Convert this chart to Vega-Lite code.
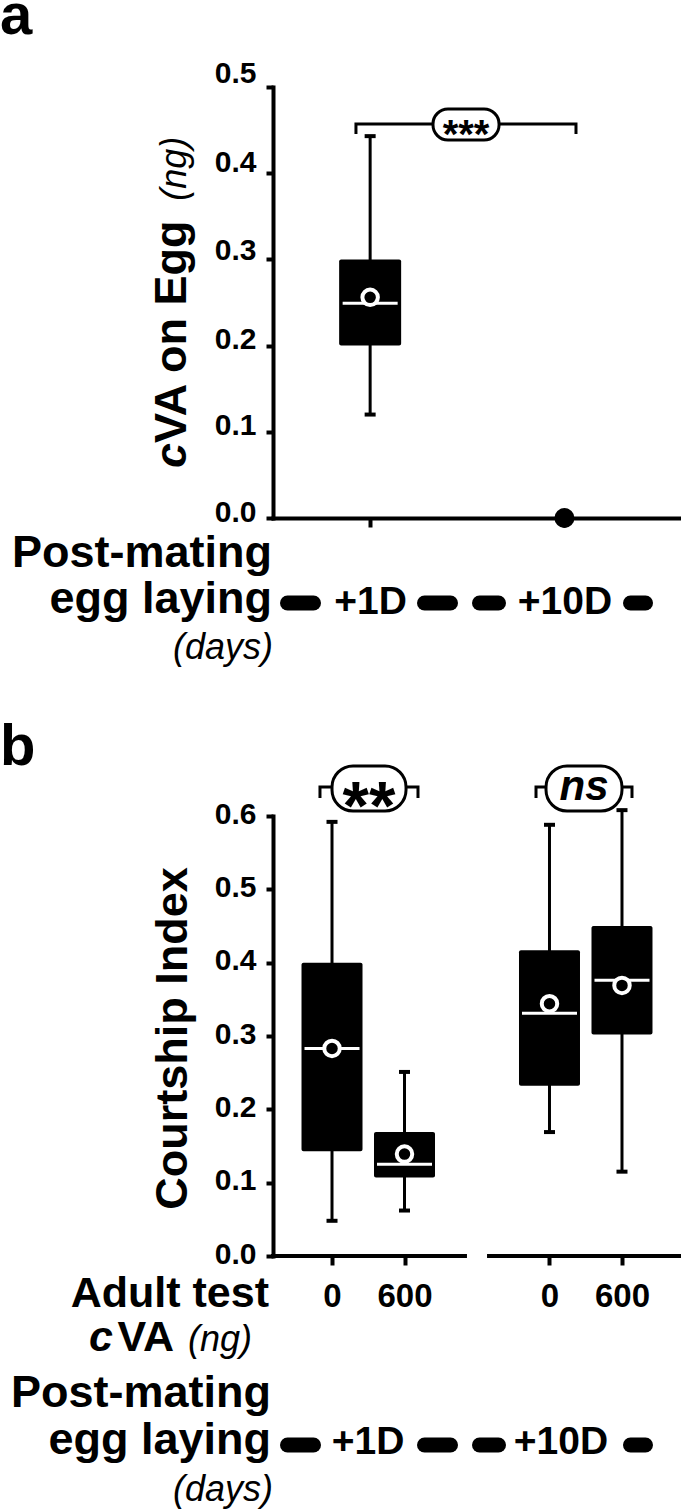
{
  "$schema": "https://vega.github.io/schema/vega-lite/v6.json",
  "padding": {"left": 0, "top": -13, "right": 0, "bottom": 0},
  "background": "white",
  "config": {"view": {"stroke": null}, "font": "Liberation Sans", "text": {"font": "Liberation Sans", "color": "black"}, "tick": {"opacity": 1}, "scale": {"continuousPadding": 0}},
  "spacing": 51,
  "datasets": {
    "boxA": [{"egg_laying": "+1D", "pos": 1, "min": 0.12, "q1": 0.2, "median": 0.249, "q3": 0.3, "max": 0.443, "mean": 0.256}],
    "pointA": [{"egg_laying": "+10D", "pos": 3, "value": 0}],
    "segA": [{"from": 0.1493, "to": 0.4169}, {"from": 1.5596, "to": 1.8273}, {"from": 2.1258, "to": 2.3214}, {"from": 3.6803, "to": 3.8347}],
    "bracketA": [{"bx": 0.854, "by": 0.4455, "i": 0}, {"bx": 0.854, "by": 0.457, "i": 1}, {"bx": 3.119, "by": 0.457, "i": 2}, {"bx": 3.119, "by": 0.4455, "i": 3}],
    "boxB": [
      {"egg_laying": "+1D", "cva": "0", "pos": 1, "min": 0.048, "q1": 0.143, "median": 0.283, "q3": 0.4, "max": 0.592, "mean": 0.283},
      {"egg_laying": "+1D", "cva": "600", "pos": 2, "min": 0.062, "q1": 0.107, "median": 0.125, "q3": 0.169, "max": 0.251, "mean": 0.139},
      {"egg_laying": "+10D", "cva": "0", "pos": 4, "min": 0.169, "q1": 0.232, "median": 0.331, "q3": 0.417, "max": 0.588, "mean": 0.344},
      {"egg_laying": "+10D", "cva": "600", "pos": 5, "min": 0.115, "q1": 0.302, "median": 0.376, "q3": 0.45, "max": 0.608, "mean": 0.369}
    ],
    "segB": [{"from": 0.3862, "to": 0.7448}, {"from": 2.2759, "to": 2.6345}, {"from": 3.0345, "to": 3.2966}, {"from": 5.1172, "to": 5.3241}],
    "axisSegB": [{"from": 0.186, "to": 2.834}, {"from": 3.166, "to": 5.814}],
    "bracketB": [
      {"g": "1D", "bx": 0.834, "by": 0.6246, "i": 0}, {"g": "1D", "bx": 0.834, "by": 0.6396, "i": 1}, {"g": "1D", "bx": 2.186, "by": 0.6396, "i": 2}, {"g": "1D", "bx": 2.186, "by": 0.6246, "i": 3},
      {"g": "10D", "bx": 3.814, "by": 0.6246, "i": 0}, {"g": "10D", "bx": 3.814, "by": 0.6396, "i": 1}, {"g": "10D", "bx": 5.138, "by": 0.6396, "i": 2}, {"g": "10D", "bx": 5.138, "by": 0.6246, "i": 3}
    ]
  },
  "vconcat": [
    {
      "width": 408,
      "height": 431,
      "layer": [
        {
          "data": {"name": "boxA"},
          "mark": {"type": "rule", "strokeWidth": 3, "color": "black"},
          "encoding": {
            "x": {"field": "pos", "type": "quantitative", "scale": {"domain": [0, 4.2], "nice": false, "padding": 0},
              "axis": {"title": null, "values": [1, 3], "labelExpr": "datum.value == 1 ? '+1D' : '+10D'", "grid": false, "domainColor": "black", "domainWidth": 4, "domainCap": "square", "tickColor": "black", "tickWidth": 4, "tickSize": 9, "labelFont": "Liberation Sans", "labelFontWeight": "bold", "labelFontSize": 39, "labelColor": "black", "labelBaseline": "alphabetic", "labelPadding": 86, "labelFlush": false, "labelOverlap": false}},
            "y": {"field": "min", "type": "quantitative", "scale": {"domain": [0, 0.5], "nice": false, "padding": 0},
              "axis": {"title": null, "values": [0, 0.1, 0.2, 0.3, 0.4, 0.5], "format": ".1f", "grid": false, "domainColor": "black", "domainWidth": 4, "domainCap": "square", "tickColor": "black", "tickWidth": 4, "tickSize": 7, "labelFont": "Liberation Sans", "labelFontWeight": "bold", "labelFontSize": 30, "labelColor": "black", "labelPadding": 10, "labelBaseline": "middle", "labelOverlap": false,
                "labelOffset": {"condition": [{"test": "datum.value > 0.45", "value": -14}, {"test": "datum.value > 0.35", "value": -11}, {"test": "datum.value > 0.25", "value": -9}, {"test": "datum.value > 0.15", "value": -6}, {"test": "datum.value > 0.05", "value": -6}], "value": -6}}},
            "y2": {"field": "max"}
          }
        },
        {
          "data": {"name": "boxA"},
          "mark": {"type": "tick", "orient": "horizontal", "size": 11, "thickness": 4, "color": "black", "opacity": 1},
          "encoding": {
            "x": {"field": "pos", "type": "quantitative", "scale": {"domain": [0, 4.2], "nice": false, "padding": 0}, "axis": {"title": null}},
            "y": {"field": "min", "type": "quantitative", "scale": {"domain": [0, 0.5], "nice": false, "padding": 0}, "axis": {"title": null}}
          }
        },
        {
          "data": {"name": "boxA"},
          "mark": {"type": "tick", "orient": "horizontal", "size": 11, "thickness": 4, "color": "black", "opacity": 1},
          "encoding": {
            "x": {"field": "pos", "type": "quantitative", "scale": {"domain": [0, 4.2], "nice": false, "padding": 0}, "axis": {"title": null}},
            "y": {"field": "max", "type": "quantitative", "scale": {"domain": [0, 0.5], "nice": false, "padding": 0}, "axis": {"title": null}}
          }
        },
        {
          "data": {"name": "boxA"},
          "mark": {"type": "bar", "width": 62, "color": "black", "cornerRadius": 2},
          "encoding": {
            "x": {"field": "pos", "type": "quantitative", "scale": {"domain": [0, 4.2], "nice": false, "padding": 0}, "axis": {"title": null}},
            "y": {"field": "q1", "type": "quantitative", "scale": {"domain": [0, 0.5], "nice": false, "padding": 0}, "axis": {"title": null}},
            "y2": {"field": "q3"}
          }
        },
        {
          "data": {"name": "boxA"},
          "mark": {"type": "tick", "orient": "horizontal", "size": 55, "thickness": 3, "color": "white", "opacity": 1},
          "encoding": {
            "x": {"field": "pos", "type": "quantitative", "scale": {"domain": [0, 4.2], "nice": false, "padding": 0}, "axis": {"title": null}},
            "y": {"field": "median", "type": "quantitative", "scale": {"domain": [0, 0.5], "nice": false, "padding": 0}, "axis": {"title": null}}
          }
        },
        {
          "data": {"name": "boxA"},
          "mark": {"type": "point", "filled": true, "color": "black", "stroke": "white", "strokeWidth": 4, "size": 240, "opacity": 1},
          "encoding": {
            "x": {"field": "pos", "type": "quantitative", "scale": {"domain": [0, 4.2], "nice": false, "padding": 0}, "axis": {"title": null}},
            "y": {"field": "mean", "type": "quantitative", "scale": {"domain": [0, 0.5], "nice": false, "padding": 0}, "axis": {"title": null}}
          }
        },
        {
          "data": {"name": "pointA"},
          "mark": {"type": "point", "filled": true, "color": "black", "size": 400, "opacity": 1},
          "encoding": {
            "x": {"field": "pos", "type": "quantitative", "scale": {"domain": [0, 4.2], "nice": false, "padding": 0}, "axis": {"title": null}},
            "y": {"field": "value", "type": "quantitative", "scale": {"domain": [0, 0.5], "nice": false, "padding": 0}, "axis": {"title": null}}
          }
        },
        {
          "data": {"name": "bracketA"},
          "mark": {"type": "line", "strokeWidth": 3, "color": "black", "strokeJoin": "miter"},
          "encoding": {
            "x": {"field": "bx", "type": "quantitative", "scale": {"domain": [0, 4.2], "nice": false, "padding": 0}, "axis": {"title": null}},
            "y": {"field": "by", "type": "quantitative", "scale": {"domain": [0, 0.5], "nice": false, "padding": 0}, "axis": {"title": null}},
            "order": {"field": "i"}
          }
        },
        {
          "data": {"values": [{"label": "***"}]},
          "mark": {"type": "rect", "fill": "white", "stroke": "black", "strokeWidth": 3, "cornerRadius": 15},
          "encoding": {
            "x": {"datum": 1.647, "type": "quantitative", "scale": {"domain": [0, 4.2], "nice": false, "padding": 0}, "axis": {"title": null}},
            "x2": {"datum": 2.327},
            "y": {"datum": 0.4385, "type": "quantitative", "scale": {"domain": [0, 0.5], "nice": false, "padding": 0}, "axis": {"title": null}},
            "y2": {"datum": 0.4745}
          }
        },
        {
          "data": {"values": [{"label": "***"}]},
          "mark": {"type": "text", "fontSize": 40, "fontWeight": "bold", "align": "center", "baseline": "alphabetic", "color": "black"},
          "encoding": {
            "x": {"datum": 1.987, "type": "quantitative", "scale": {"domain": [0, 4.2], "nice": false, "padding": 0}, "axis": {"title": null}},
            "y": {"datum": 0.4287, "type": "quantitative", "scale": {"domain": [0, 0.5], "nice": false, "padding": 0}, "axis": {"title": null}},
            "text": {"field": "label"}
          }
        },
        {
          "data": {"name": "segA"},
          "mark": {"type": "rule", "strokeWidth": 15, "strokeCap": "round", "color": "black"},
          "encoding": {
            "x": {"field": "from", "type": "quantitative", "scale": {"domain": [0, 4.2], "nice": false, "padding": 0}, "axis": {"title": null}},
            "x2": {"field": "to"},
            "y": {"datum": -0.0986, "type": "quantitative", "scale": {"domain": [0, 0.5], "nice": false, "padding": 0}, "axis": {"title": null}}
          }
        },
        {
          "data": {"values": [{"label": "Post-mating"}]},
          "mark": {"type": "text", "fontSize": 45, "fontWeight": "bold", "align": "right", "baseline": "alphabetic", "color": "black"},
          "encoding": {
            "x": {"datum": -0.0103, "type": "quantitative", "scale": {"domain": [0, 4.2], "nice": false, "padding": 0}, "axis": {"title": null}},
            "y": {"datum": -0.0569, "type": "quantitative", "scale": {"domain": [0, 0.5], "nice": false, "padding": 0}, "axis": {"title": null}},
            "text": {"field": "label"}
          }
        },
        {
          "data": {"values": [{"label": "egg laying"}]},
          "mark": {"type": "text", "fontSize": 45, "fontWeight": "bold", "align": "right", "baseline": "alphabetic", "color": "black"},
          "encoding": {
            "x": {"datum": -0.0103, "type": "quantitative", "scale": {"domain": [0, 4.2], "nice": false, "padding": 0}, "axis": {"title": null}},
            "y": {"datum": -0.1102, "type": "quantitative", "scale": {"domain": [0, 0.5], "nice": false, "padding": 0}, "axis": {"title": null}},
            "text": {"field": "label"}
          }
        },
        {
          "data": {"values": [{"label": "(days)"}]},
          "mark": {"type": "text", "fontSize": 36, "fontStyle": "italic", "align": "right", "baseline": "alphabetic", "color": "black"},
          "encoding": {
            "x": {"datum": 0, "type": "quantitative", "scale": {"domain": [0, 4.2], "nice": false, "padding": 0}, "axis": {"title": null}},
            "y": {"datum": -0.1636, "type": "quantitative", "scale": {"domain": [0, 0.5], "nice": false, "padding": 0}, "axis": {"title": null}},
            "text": {"field": "label"}
          }
        },
        {
          "data": {"values": [{"label": "c"}]},
          "mark": {"type": "text", "fontSize": 45, "fontWeight": "bold", "fontStyle": "italic", "align": "left", "baseline": "alphabetic", "angle": 270, "color": "black"},
          "encoding": {
            "x": {"datum": -0.8956, "type": "quantitative", "scale": {"domain": [0, 4.2], "nice": false, "padding": 0}, "axis": {"title": null}},
            "y": {"datum": 0.058, "type": "quantitative", "scale": {"domain": [0, 0.5], "nice": false, "padding": 0}, "axis": {"title": null}},
            "text": {"field": "label"}
          }
        },
        {
          "data": {"values": [{"label": "VA on Egg"}]},
          "mark": {"type": "text", "fontSize": 45, "fontWeight": "bold", "align": "left", "baseline": "alphabetic", "angle": 270, "color": "black"},
          "encoding": {
            "x": {"datum": -0.8956, "type": "quantitative", "scale": {"domain": [0, 4.2], "nice": false, "padding": 0}, "axis": {"title": null}},
            "y": {"datum": 0.087, "type": "quantitative", "scale": {"domain": [0, 0.5], "nice": false, "padding": 0}, "axis": {"title": null}},
            "text": {"field": "label"}
          }
        },
        {
          "data": {"values": [{"label": "(ng)"}]},
          "mark": {"type": "text", "fontSize": 36, "fontStyle": "italic", "align": "left", "baseline": "alphabetic", "angle": 270, "color": "black"},
          "encoding": {
            "x": {"datum": -0.8956, "type": "quantitative", "scale": {"domain": [0, 4.2], "nice": false, "padding": 0}, "axis": {"title": null}},
            "y": {"datum": 0.368, "type": "quantitative", "scale": {"domain": [0, 0.5], "nice": false, "padding": 0}, "axis": {"title": null}},
            "text": {"field": "label"}
          }
        },
        {
          "data": {"values": [{"label": "a"}]},
          "mark": {"type": "text", "fontSize": 58, "fontWeight": "bold", "align": "left", "baseline": "alphabetic", "color": "black"},
          "encoding": {
            "x": {"datum": -2.81, "type": "quantitative", "scale": {"domain": [0, 4.2], "nice": false, "padding": 0}, "axis": {"title": null}},
            "y": {"datum": 0.5615, "type": "quantitative", "scale": {"domain": [0, 0.5], "nice": false, "padding": 0}, "axis": {"title": null}},
            "text": {"field": "label"}
          }
        }
      ]
    },
    {
      "width": 408,
      "height": 440,
      "layer": [
        {
          "data": {"name": "boxB"},
          "mark": {"type": "rule", "strokeWidth": 3, "color": "black"},
          "encoding": {
            "x": {"field": "pos", "type": "quantitative", "scale": {"domain": [0.186, 5.814], "nice": false, "padding": 0},
              "axis": {"title": null, "values": [1, 2, 4, 5], "labelExpr": "datum.value == 1 || datum.value == 4 ? '0' : '600'", "grid": false, "domain": false, "tickColor": "black", "tickWidth": 4, "tickSize": 9, "labelFont": "Liberation Sans", "labelFontWeight": "bold", "labelFontSize": 33, "labelColor": "black", "labelBaseline": "alphabetic", "labelPadding": 41, "labelFlush": false, "labelOverlap": false}},
            "y": {"field": "min", "type": "quantitative", "scale": {"domain": [0, 0.6], "nice": false, "padding": 0},
              "axis": {"title": "Courtship Index", "titleFont": "Liberation Sans", "titleFontWeight": "bold", "titleFontSize": 45, "titleColor": "black", "titleAngle": 270, "titleAlign": "center", "titleBaseline": "alphabetic", "titleX": -87, "titleY": 222, "values": [0, 0.1, 0.2, 0.3, 0.4, 0.5, 0.6], "format": ".1f", "grid": false, "domainColor": "black", "domainWidth": 4, "domainCap": "square", "tickColor": "black", "tickWidth": 4, "tickSize": 7, "labelFont": "Liberation Sans", "labelFontWeight": "bold", "labelFontSize": 30, "labelColor": "black", "labelPadding": 10, "labelBaseline": "middle", "labelOffset": -2, "labelOverlap": false}},
            "y2": {"field": "max"}
          }
        },
        {
          "data": {"name": "boxB"},
          "mark": {"type": "tick", "orient": "horizontal", "size": 11, "thickness": 4, "color": "black", "opacity": 1},
          "encoding": {
            "x": {"field": "pos", "type": "quantitative", "scale": {"domain": [0.186, 5.814], "nice": false, "padding": 0}, "axis": {"title": null}},
            "y": {"field": "min", "type": "quantitative", "scale": {"domain": [0, 0.6], "nice": false, "padding": 0}, "axis": {"title": "Courtship Index"}}
          }
        },
        {
          "data": {"name": "boxB"},
          "mark": {"type": "tick", "orient": "horizontal", "size": 11, "thickness": 4, "color": "black", "opacity": 1},
          "encoding": {
            "x": {"field": "pos", "type": "quantitative", "scale": {"domain": [0.186, 5.814], "nice": false, "padding": 0}, "axis": {"title": null}},
            "y": {"field": "max", "type": "quantitative", "scale": {"domain": [0, 0.6], "nice": false, "padding": 0}, "axis": {"title": "Courtship Index"}}
          }
        },
        {
          "data": {"name": "boxB"},
          "mark": {"type": "bar", "width": 61, "color": "black", "cornerRadius": 2},
          "encoding": {
            "x": {"field": "pos", "type": "quantitative", "scale": {"domain": [0.186, 5.814], "nice": false, "padding": 0}, "axis": {"title": null}},
            "y": {"field": "q1", "type": "quantitative", "scale": {"domain": [0, 0.6], "nice": false, "padding": 0}, "axis": {"title": "Courtship Index"}},
            "y2": {"field": "q3"}
          }
        },
        {
          "data": {"name": "boxB"},
          "mark": {"type": "tick", "orient": "horizontal", "size": 55, "thickness": 3, "color": "white", "opacity": 1},
          "encoding": {
            "x": {"field": "pos", "type": "quantitative", "scale": {"domain": [0.186, 5.814], "nice": false, "padding": 0}, "axis": {"title": null}},
            "y": {"field": "median", "type": "quantitative", "scale": {"domain": [0, 0.6], "nice": false, "padding": 0}, "axis": {"title": "Courtship Index"}}
          }
        },
        {
          "data": {"name": "boxB"},
          "mark": {"type": "point", "filled": true, "color": "black", "stroke": "white", "strokeWidth": 4, "size": 240, "opacity": 1},
          "encoding": {
            "x": {"field": "pos", "type": "quantitative", "scale": {"domain": [0.186, 5.814], "nice": false, "padding": 0}, "axis": {"title": null}},
            "y": {"field": "mean", "type": "quantitative", "scale": {"domain": [0, 0.6], "nice": false, "padding": 0}, "axis": {"title": "Courtship Index"}}
          }
        },
        {
          "data": {"name": "axisSegB"},
          "mark": {"type": "rule", "strokeWidth": 4, "strokeCap": "square", "color": "black"},
          "encoding": {
            "x": {"field": "from", "type": "quantitative", "scale": {"domain": [0.186, 5.814], "nice": false, "padding": 0}, "axis": {"title": null}},
            "x2": {"field": "to"},
            "y": {"datum": 0, "type": "quantitative", "scale": {"domain": [0, 0.6], "nice": false, "padding": 0}, "axis": {"title": "Courtship Index"}}
          }
        },
        {
          "data": {"name": "bracketB"},
          "mark": {"type": "line", "strokeWidth": 3, "color": "black", "strokeJoin": "miter"},
          "encoding": {
            "x": {"field": "bx", "type": "quantitative", "scale": {"domain": [0.186, 5.814], "nice": false, "padding": 0}, "axis": {"title": null}},
            "y": {"field": "by", "type": "quantitative", "scale": {"domain": [0, 0.6], "nice": false, "padding": 0}, "axis": {"title": "Courtship Index"}},
            "detail": {"field": "g"},
            "order": {"field": "i"}
          }
        },
        {
          "data": {"values": [{"label": "**"}]},
          "mark": {"type": "rect", "fill": "white", "stroke": "black", "strokeWidth": 3, "cornerRadius": 21},
          "encoding": {
            "x": {"datum": 1.0, "type": "quantitative", "scale": {"domain": [0.186, 5.814], "nice": false, "padding": 0}, "axis": {"title": null}},
            "x2": {"datum": 2.021},
            "y": {"datum": 0.6068, "type": "quantitative", "scale": {"domain": [0, 0.6], "nice": false, "padding": 0}, "axis": {"title": "Courtship Index"}},
            "y2": {"datum": 0.6682}
          }
        },
        {
          "data": {"values": [{"label": "ns"}]},
          "mark": {"type": "rect", "fill": "white", "stroke": "black", "strokeWidth": 3, "cornerRadius": 21},
          "encoding": {
            "x": {"datum": 3.952, "type": "quantitative", "scale": {"domain": [0.186, 5.814], "nice": false, "padding": 0}, "axis": {"title": null}},
            "x2": {"datum": 5.0},
            "y": {"datum": 0.6068, "type": "quantitative", "scale": {"domain": [0, 0.6], "nice": false, "padding": 0}, "axis": {"title": "Courtship Index"}},
            "y2": {"datum": 0.6682}
          }
        },
        {
          "data": {"values": [{"label": "**"}]},
          "mark": {"type": "text", "fontSize": 68, "fontWeight": "bold", "align": "center", "baseline": "alphabetic", "color": "black"},
          "encoding": {
            "x": {"datum": 1.51, "type": "quantitative", "scale": {"domain": [0.186, 5.814], "nice": false, "padding": 0}, "axis": {"title": null}},
            "y": {"datum": 0.5823, "type": "quantitative", "scale": {"domain": [0, 0.6], "nice": false, "padding": 0}, "axis": {"title": "Courtship Index"}},
            "text": {"field": "label"}
          }
        },
        {
          "data": {"values": [{"label": "ns"}]},
          "mark": {"type": "text", "fontSize": 42, "fontWeight": "bold", "fontStyle": "italic", "align": "center", "baseline": "alphabetic", "color": "black"},
          "encoding": {
            "x": {"datum": 4.476, "type": "quantitative", "scale": {"domain": [0.186, 5.814], "nice": false, "padding": 0}, "axis": {"title": null}},
            "y": {"datum": 0.6218, "type": "quantitative", "scale": {"domain": [0, 0.6], "nice": false, "padding": 0}, "axis": {"title": "Courtship Index"}},
            "text": {"field": "label"}
          }
        },
        {
          "data": {"name": "segB"},
          "mark": {"type": "rule", "strokeWidth": 15, "strokeCap": "round", "color": "black"},
          "encoding": {
            "x": {"field": "from", "type": "quantitative", "scale": {"domain": [0.186, 5.814], "nice": false, "padding": 0}, "axis": {"title": null}},
            "x2": {"field": "to"},
            "y": {"datum": -0.2577, "type": "quantitative", "scale": {"domain": [0, 0.6], "nice": false, "padding": 0}, "axis": {"title": "Courtship Index"}}
          }
        },
        {
          "data": {"values": [{"label": "+1D"}]},
          "mark": {"type": "text", "fontSize": 39, "fontWeight": "bold", "align": "center", "baseline": "alphabetic", "color": "black"},
          "encoding": {
            "x": {"datum": 1.4966, "type": "quantitative", "scale": {"domain": [0.186, 5.814], "nice": false, "padding": 0}, "axis": {"title": null}},
            "y": {"datum": -0.2701, "type": "quantitative", "scale": {"domain": [0, 0.6], "nice": false, "padding": 0}, "axis": {"title": "Courtship Index"}},
            "text": {"field": "label"}
          }
        },
        {
          "data": {"values": [{"label": "+10D"}]},
          "mark": {"type": "text", "fontSize": 39, "fontWeight": "bold", "align": "center", "baseline": "alphabetic", "color": "black"},
          "encoding": {
            "x": {"datum": 4.1586, "type": "quantitative", "scale": {"domain": [0.186, 5.814], "nice": false, "padding": 0}, "axis": {"title": null}},
            "y": {"datum": -0.2701, "type": "quantitative", "scale": {"domain": [0, 0.6], "nice": false, "padding": 0}, "axis": {"title": "Courtship Index"}},
            "text": {"field": "label"}
          }
        },
        {
          "data": {"values": [{"label": "Adult test"}]},
          "mark": {"type": "text", "fontSize": 43, "fontWeight": "bold", "align": "right", "baseline": "alphabetic", "color": "black"},
          "encoding": {
            "x": {"datum": 0.131, "type": "quantitative", "scale": {"domain": [0.186, 5.814], "nice": false, "padding": 0}, "axis": {"title": null}},
            "y": {"datum": -0.0695, "type": "quantitative", "scale": {"domain": [0, 0.6], "nice": false, "padding": 0}, "axis": {"title": "Courtship Index"}},
            "text": {"field": "label"}
          }
        },
        {
          "data": {"values": [{"label": "c"}]},
          "mark": {"type": "text", "fontSize": 43, "fontWeight": "bold", "fontStyle": "italic", "align": "right", "baseline": "alphabetic", "color": "black"},
          "encoding": {
            "x": {"datum": -2.021, "type": "quantitative", "scale": {"domain": [0.186, 5.814], "nice": false, "padding": 0}, "axis": {"title": null}},
            "y": {"datum": -0.1296, "type": "quantitative", "scale": {"domain": [0, 0.6], "nice": false, "padding": 0}, "axis": {"title": "Courtship Index"}},
            "text": {"field": "label"}
          }
        },
        {
          "data": {"values": [{"label": "VA"}]},
          "mark": {"type": "text", "fontSize": 43, "fontWeight": "bold", "align": "right", "baseline": "alphabetic", "color": "black"},
          "encoding": {
            "x": {"datum": -1.179, "type": "quantitative", "scale": {"domain": [0.186, 5.814], "nice": false, "padding": 0}, "axis": {"title": null}},
            "y": {"datum": -0.1296, "type": "quantitative", "scale": {"domain": [0, 0.6], "nice": false, "padding": 0}, "axis": {"title": "Courtship Index"}},
            "text": {"field": "label"}
          }
        },
        {
          "data": {"values": [{"label": "(ng)"}]},
          "mark": {"type": "text", "fontSize": 36, "fontStyle": "italic", "align": "right", "baseline": "alphabetic", "color": "black"},
          "encoding": {
            "x": {"datum": -0.1034, "type": "quantitative", "scale": {"domain": [0.186, 5.814], "nice": false, "padding": 0}, "axis": {"title": null}},
            "y": {"datum": -0.1296, "type": "quantitative", "scale": {"domain": [0, 0.6], "nice": false, "padding": 0}, "axis": {"title": "Courtship Index"}},
            "text": {"field": "label"}
          }
        },
        {
          "data": {"values": [{"label": "Post-mating"}]},
          "mark": {"type": "text", "fontSize": 45, "fontWeight": "bold", "align": "right", "baseline": "alphabetic", "color": "black"},
          "encoding": {
            "x": {"datum": 0.1586, "type": "quantitative", "scale": {"domain": [0.186, 5.814], "nice": false, "padding": 0}, "axis": {"title": null}},
            "y": {"datum": -0.2059, "type": "quantitative", "scale": {"domain": [0, 0.6], "nice": false, "padding": 0}, "axis": {"title": "Courtship Index"}},
            "text": {"field": "label"}
          }
        },
        {
          "data": {"values": [{"label": "egg laying"}]},
          "mark": {"type": "text", "fontSize": 45, "fontWeight": "bold", "align": "right", "baseline": "alphabetic", "color": "black"},
          "encoding": {
            "x": {"datum": 0.1586, "type": "quantitative", "scale": {"domain": [0.186, 5.814], "nice": false, "padding": 0}, "axis": {"title": null}},
            "y": {"datum": -0.2701, "type": "quantitative", "scale": {"domain": [0, 0.6], "nice": false, "padding": 0}, "axis": {"title": "Courtship Index"}},
            "text": {"field": "label"}
          }
        },
        {
          "data": {"values": [{"label": "(days)"}]},
          "mark": {"type": "text", "fontSize": 36, "fontStyle": "italic", "align": "right", "baseline": "alphabetic", "color": "black"},
          "encoding": {
            "x": {"datum": 0.186, "type": "quantitative", "scale": {"domain": [0.186, 5.814], "nice": false, "padding": 0}, "axis": {"title": null}},
            "y": {"datum": -0.3341, "type": "quantitative", "scale": {"domain": [0, 0.6], "nice": false, "padding": 0}, "axis": {"title": "Courtship Index"}},
            "text": {"field": "label"}
          }
        },
        {
          "data": {"values": [{"label": "b"}]},
          "mark": {"type": "text", "fontSize": 58, "fontWeight": "bold", "align": "left", "baseline": "alphabetic", "color": "black"},
          "encoding": {
            "x": {"datum": -3.579, "type": "quantitative", "scale": {"domain": [0.186, 5.814], "nice": false, "padding": 0}, "axis": {"title": null}},
            "y": {"datum": 0.6696, "type": "quantitative", "scale": {"domain": [0, 0.6], "nice": false, "padding": 0}, "axis": {"title": "Courtship Index"}},
            "text": {"field": "label"}
          }
        }
      ]
    }
  ]
}
